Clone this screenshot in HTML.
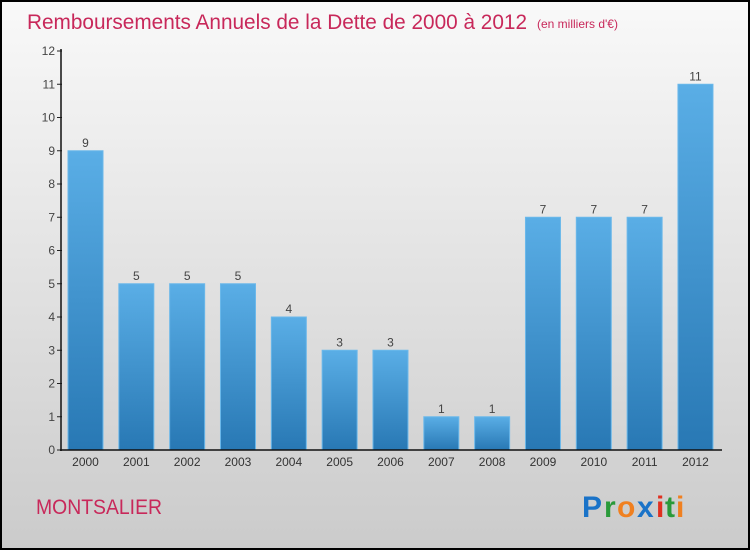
<!DOCTYPE html>
<html><head><meta charset="utf-8"><style>
html,body{margin:0;padding:0;}
body{width:750px;height:550px;overflow:hidden;font-family:"Liberation Sans",sans-serif;}
</style></head><body>
<svg id="chart" width="750" height="550" xmlns="http://www.w3.org/2000/svg">
<defs>
<linearGradient id="bg" x1="0" y1="0" x2="0" y2="1"><stop offset="0" stop-color="#f9f9f9"/><stop offset="1" stop-color="#cbcbcb"/></linearGradient>
<linearGradient id="bar" x1="0" y1="0" x2="0" y2="1"><stop offset="0" stop-color="#5aaee6"/><stop offset="1" stop-color="#2878b4"/></linearGradient>
</defs>
<rect x="1" y="1" width="748" height="548" fill="url(#bg)" stroke="#000" stroke-width="2"/>
<text x="27" y="29" font-size="21" fill="#c8285a" textLength="500" lengthAdjust="spacingAndGlyphs">Remboursements Annuels de la Dette de 2000 à 2012</text>
<text x="537" y="28" font-size="12" fill="#c8285a">(en milliers d'€)</text>
<g id="plot"></g>
<text x="36" y="514" font-size="21" fill="#c8285a" textLength="126" lengthAdjust="spacingAndGlyphs">MONTSALIER</text>
<g font-size="30" font-weight="bold" font-family="Liberation Sans, sans-serif">
<text x="582" y="517" fill="#1a73c8">P</text><text x="604" y="517" fill="#2a9a3a">r</text><text x="617" y="517" fill="#f08020">o</text><text x="637" y="517" fill="#1a73c8">x</text><text x="656" y="517" fill="#e03020">i</text><text x="665" y="517" fill="#2a9a3a">t</text><text x="676" y="517" fill="#f08020">i</text>
</g>
</svg>
<script>
const categories=["2000","2001","2002","2003","2004","2005","2006","2007","2008","2009","2010","2011","2012"];
const values=[9,5,5,5,4,3,3,1,1,7,7,7,11];
const yTicks=[0,1,2,3,4,5,6,7,8,9,10,11,12];
const NS="http://www.w3.org/2000/svg";
const g=document.getElementById("plot");
const y0=450,yTop=51,yMax=12;
const y=v=>y0-(y0-yTop)*v/yMax;
const x=i=>68+i*50.83;
const bw=35;
function mk(t,a,txt){const e=document.createElementNS(NS,t);for(const k in a)e.setAttribute(k,a[k]);if(txt!==undefined)e.textContent=txt;g.appendChild(e);return e;}
yTicks.forEach(t=>{
  const l=mk("line",{x1:57,x2:62,y1:y(t),y2:y(t),stroke:"#222"});
  
  
  const tx=mk("text",{x:55,y:y(t)+4,"font-size":12,fill:"#444","text-anchor":"end"},t);
  
  
});
categories.forEach((c,i)=>{
  const v=values[i];
  const r=mk("rect",{x:x(i),y:y(v),width:bw,height:y0-y(v),fill:"url(#bar)",stroke:"#6bb8ea","stroke-width":1});
  
  
  const vl=mk("text",{x:x(i)+bw/2,y:y(v)-4,"font-size":12,fill:"#444","text-anchor":"middle"},v);
  
  
  const xl=mk("text",{x:x(i)+bw/2,y:466,"font-size":12,fill:"#333","text-anchor":"middle"},c);
  
  
});
const ya=mk("line",{x1:61,x2:61,y1:yTop-2,y2:y0+1,stroke:"#111","stroke-width":1.5});


const xa=mk("line",{x1:60,x2:722,y1:y0,y2:y0,stroke:"#111","stroke-width":1.5});


</script>
</body></html>
